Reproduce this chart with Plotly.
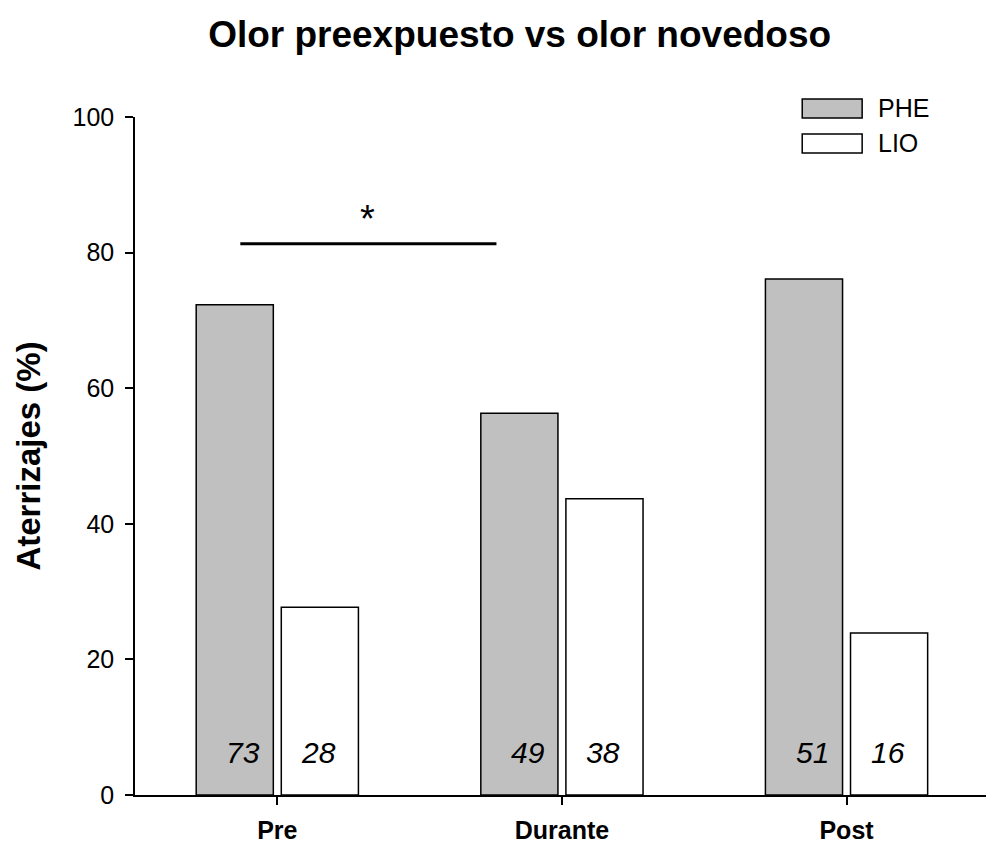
import plotly.graph_objects as go

# Landing percentages per phase and odor, with the counts printed inside the bars
phases = ["Pre", "Durante", "Post"]
phe_pct = [72.3, 56.3, 76.1]
lio_pct = [27.7, 43.7, 23.9]
phe_n = ["73", "49", "51"]
lio_n = ["28", "38", "16"]
y_ticks = [0, 20, 40, 60, 80, 100]

FONT = "Liberation Sans, Arial, sans-serif"
GRAY = "#c0c0c0"
BAR_W = 0.271

fig = go.Figure()
fig.add_trace(go.Bar(
    x=phases, y=phe_pct, name="PHE", width=BAR_W, offset=-0.285,
    marker=dict(color=GRAY, line=dict(color="black", width=1.5)),
    hoverinfo="y",
))
fig.add_trace(go.Bar(
    x=phases, y=lio_pct, name="LIO", width=BAR_W, offset=0.014,
    marker=dict(color="white", line=dict(color="black", width=1.5)),
    hoverinfo="y",
))

# counts written near the base of each bar
for i, ph in enumerate(phases):
    fig.add_annotation(x=i, y=6.2, text=f"<i>{phe_n[i]}</i>", showarrow=False,
                       xshift=-34, font=dict(family=FONT, size=30, color="black"))
    fig.add_annotation(x=i, y=6.2, text=f"<i>{lio_n[i]}</i>", showarrow=False,
                       xshift=41, font=dict(family=FONT, size=30, color="black"))

# significance bracket between Pre and Durante
fig.add_shape(type="line", xref="x", yref="y", x0=-0.13, x1=0.77, y0=81.3, y1=81.3,
              line=dict(color="black", width=3))
fig.add_annotation(x=0.317, y=85.0, text="*", showarrow=False, yanchor="middle",
                   font=dict(family=FONT, size=38, color="black"))

# legend boxes
legend_items = [("PHE", GRAY), ("LIO", "white")]
for k, (lab, col) in enumerate(legend_items):
    top_px = 99 + k * 35
    fig.add_shape(type="rect", xref="paper", yref="paper",
                  x0=(803 - 135) / 852, x1=(863 - 135) / 852,
                  y0=(795 - (top_px + 19)) / 678, y1=(795 - top_px) / 678,
                  fillcolor=col, line=dict(color="black", width=1.5))
    fig.add_annotation(xref="paper", yref="paper", x=(877 - 135) / 852,
                       y=(795 - (top_px + 9.5)) / 678, text=lab, showarrow=False,
                       xanchor="left", yanchor="middle",
                       font=dict(family=FONT, size=25, color="black"))

fig.update_layout(
    width=986, height=845,
    margin=dict(l=135, r=0, t=117, b=50),
    paper_bgcolor="white", plot_bgcolor="white",
    barmode="overlay", showlegend=False,
    title=dict(text="<b>Olor preexpuesto vs olor novedoso</b>", x=0.527, xanchor="center",
               y=1 - 34 / 845, yanchor="middle",
               font=dict(family=FONT, size=37, color="black")),
    font=dict(family=FONT, color="black"),
)
fig.update_xaxes(
    range=[-0.5, 2.49], showgrid=False, zeroline=False, automargin=False,
    showline=True, linecolor="black", linewidth=1.5,
    ticks="outside", ticklen=8, tickcolor="black", tickwidth=1.5,
    tickvals=[0, 1, 2], ticktext=[f"<b>{p}</b>" for p in phases],
    tickfont=dict(family=FONT, size=25, color="black"),
    ticklabelstandoff=4,
)
fig.update_yaxes(
    range=[0, 100], showgrid=False, zeroline=False, automargin=False,
    showline=True, linecolor="black", linewidth=1.5,
    ticks="outside", ticklen=8, tickcolor="black", tickwidth=1.5,
    tickvals=y_ticks, tickfont=dict(family=FONT, size=25, color="black"),
    ticklabelstandoff=6,
    title=dict(text="<b>Aterrizajes (%)</b>", standoff=22,
               font=dict(family=FONT, size=33, color="black")),
)

fig.write_html("out.html")
